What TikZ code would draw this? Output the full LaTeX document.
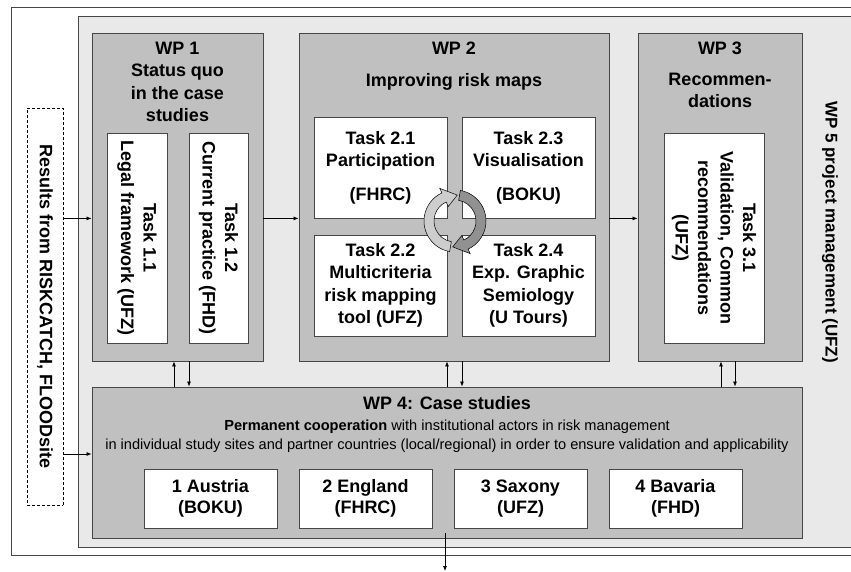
\documentclass[tikz,border=0pt]{standalone}
\usepackage{fontspec}
\setmainfont{Liberation Sans}
\usetikzlibrary{positioning,arrows.meta}
\definecolor{wpfill}{RGB}{192,192,192}
\definecolor{pmfill}{RGB}{233,233,233}
\definecolor{rimgray}{RGB}{70,70,70}
\definecolor{ringlight}{RGB}{205,205,205}
\definecolor{ringdark}{RGB}{145,145,145}
\tikzset{
  wp/.style={draw=rimgray, fill=wpfill, line width=0.9pt},
  task/.style={draw=rimgray, fill=white, line width=0.8pt, align=center, inner sep=0pt,
    font=\fontsize{18}{22.5}\selectfont\bfseries},
  head/.style={align=center, inner sep=0pt, font=\fontsize{18}{22.5}\selectfont\bfseries},
  link/.style={-{Latex[length=5pt,width=4pt]}, line width=0.7pt},
  ring/.style={draw=black, line width=0.5pt},
}

\begin{document}
\begin{tikzpicture}[x=1pt,y=-1pt]
\useasboundingbox (0,0) rectangle (851,571);
\clip (0,0) rectangle (851,571);
% frame and project management
\draw[rimgray, line width=1pt] (11,7) rectangle (870,555);
\node[draw=rimgray, fill=pmfill, line width=0.9pt, minimum width=800pt, minimum height=531pt] (wp5) at (478,281.5) {};
\node[head, font=\fontsize{17}{21}\selectfont\bfseries, rotate=-90] (wp5head) at (830,232) {WP 5 project management (UFZ)};
% input from earlier projects
\node[head, draw, dash pattern=on 3pt off 2pt, line width=0.6pt, fill=white, rotate=-90,
  minimum width=397pt, minimum height=36pt] (prior) at (45,306.5) {Results from RISKCATCH, FLOODsite};
% work packages
\node[wp, minimum width=171pt, minimum height=328pt] (wp1) at (177.5,197) {};
\node[wp, minimum width=310pt, minimum height=328pt] (wp2) at (454,197) {};
\node[wp, minimum width=164pt, minimum height=328pt] (wp3) at (720,197) {};
\node[wp, minimum width=710pt, minimum height=151pt] (wp4) at (447,462.5) {};
\node[head, below=9pt of wp1.north] (wp1head) {WP 1\\Status quo\\in the case\\studies};
\node[head, below=9pt of wp2.north] (wp2head) {WP 2\\[10pt]Improving risk maps};
\node[head, below=9pt of wp3.north] (wp3head) {WP 3\\[8.5pt]Recommen-\\dations};
% tasks
\node[task, rotate=-90, minimum width=210pt, minimum height=60pt] (t11) at (137,238) {Task 1.1\\Legal framework (UFZ)};
\node[task, rotate=-90, minimum width=210pt, minimum height=59pt] (t12) at (218.5,238) {Task 1.2\\Current practice (FHD)};
\node[task, minimum width=133pt, minimum height=101pt] (t21) at (380.5,167.5) {Task 2.1\\Participation\\[11pt](FHRC)};
\node[task, minimum width=133pt, minimum height=101pt] (t23) at (528.5,167.5) {Task 2.3\\Visualisation\\[11pt](BOKU)};
\node[task, minimum width=133pt, minimum height=101pt] (t22) at (380.5,285.5) {Task 2.2\\Multicriteria\\risk mapping\\tool (UFZ)};
\node[task, minimum width=133pt, minimum height=101pt] (t24) at (528.5,285.5) {Task 2.4\\Exp. Graphic\\Semiology\\(U Tours)};
\node[task, rotate=-90, minimum width=210pt, minimum height=100pt] (t31) at (714,238) {Task 3.1\\Validation, Common\\recommendations\\(UFZ)};
% iteration between the tasks of WP 2
\begin{scope}[shift={(455,221)}]
  \fill[ringlight, ring] (100:31) arc[start angle=100, end angle=245, radius=31]
    -- (245:36) -- (275:26) -- (245:16) -- (245:21) arc[start angle=245, end angle=100, radius=21] -- cycle;
  \fill[ringdark, ring] (280:31) arc[start angle=280, end angle=425, radius=31]
    -- (425:36) -- (455:26) -- (425:16) -- (425:21) arc[start angle=425, end angle=280, radius=21] -- cycle;
\end{scope}
% case studies
\node[head, below=10pt of wp4.north] (wp4head) {WP 4: Case studies};
\node[align=center, inner sep=0pt, font=\fontsize{14.6}{19}\selectfont, below=9.5pt of wp4head] (wp4text)
  {\textbf{Permanent cooperation} with institutional actors in risk management\\in individual study sites and partner countries (local/regional) in order to ensure validation and applicability};
\foreach \site/\inst [count=\n] in {1 Austria/BOKU, 2 England/FHRC, 3 Saxony/UFZ, 4 Bavaria/FHD} {
  \node[task, font=\fontsize{18}{21.5}\selectfont\bfseries, minimum width=133pt, minimum height=59pt] (cs\n) at (55.5+155*\n,498.5) {\site\\(\inst)};
}
% flows
\draw[link] (prior.north |- t21.south) -- (wp1.west |- t21.south);
\draw[link] (wp1.east |- t21.south) -- (wp2.west |- t21.south);
\draw[link] (wp2.east |- t21.south) -- (wp3.west |- t21.south);
\draw[link] (prior.north |- 0,454) -- (wp4.west |- 0,454);
\foreach \up/\down/\w in {174/189/wp1, 447/462/wp2, 721/735/wp3} {
  \draw[link] (\up,0 |- wp4.north) -- (\up,0 |- \w.south);
  \draw[link] (\down,0 |- \w.south) -- (\down,0 |- wp4.north);
}
\coordinate (outstart) at (445,533);
\coordinate (outend) at (445,571);
\draw[link] (outstart) -- (outend);
\end{tikzpicture}
\end{document}
